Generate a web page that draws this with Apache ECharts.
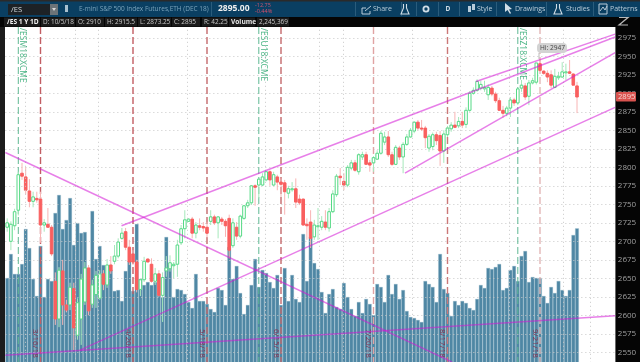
<!DOCTYPE html>
<html>
<head>
<meta charset="utf-8">
<title>/ES</title>
<style>
html,body{margin:0;padding:0;background:#fff;overflow:hidden;}
#chart{width:640px;height:362px;}
</style>
<script src="https://cdn.jsdelivr.net/npm/echarts@6/dist/echarts.min.js"></script>
</head>
<body>
<div id="chart"></div>
<script>
// open, close, low, high of each session
var ohlc = [
[2719,2725,2713,2731],[2700,2723,2688,2727],[2721,2740,2715,2744],[2742,2790,2735,2794],[2792,2788,2783,2806],
[2787,2769,2763,2800],[2768,2754,2746,2784],[2754,2760,2746,2767],[2758,2756,2752,2767],[2757,2722,2698,2767],
[2722,2725,2713,2730],[2723,2719,2718,2745],[2719,2683,2680,2722],[2646,2595,2587,2658],[2595,2661,2584,2665],
[2660,2614,2587,2675],[2614,2607,2604,2621],[2614,2638,2607,2644],[2636,2583,2553,2644],[2573,2617,2567,2623],
[2595,2649,2560,2656],[2618,2664,2614,2672],[2664,2606,2600,2668],[2615,2641,2610,2648],[2628,2654,2610,2660],
[2623,2656,2621,2661],[2656,2642,2634,2661],[2641,2668,2637,2676],[2668,2660,2656,2680],[2673,2680,2669,2695],
[2680,2699,2677,2704],[2704,2711,2702,2718],[2713,2692,2688,2718],[2692,2672,2668,2702],[2683,2672,2668,2688],
[2672,2635,2631,2675],[2635,2648,2626,2650],[2648,2673,2645,2679],[2676,2672,2672,2677],[2669,2646,2644,2677],
[2646,2656,2641,2664],[2656,2627,2625,2661],[2627,2651,2591,2658],[2660,2664,2652,2680],[2663,2671,2659,2681],
[2667,2669,2650,2672],[2669,2695,2652,2702],[2698,2717,2695,2722],[2717,2729,2704,2742],[2727,2730,2726,2731],
[2730,2711,2704,2733],[2711,2722,2704,2726],[2721,2719,2715,2731],[2720,2718,2713,2726],[2719,2711,2705,2726],
[2727,2733,2722,2742],[2733,2725,2722,2736],[2725,2733,2704,2734],[2730,2727,2722,2733],[2727,2721,2706,2730],
[2731,2688,2677,2736],[2694,2725,2691,2731],[2719,2707,2702,2726],[2707,2734,2704,2736],[2731,2748,2729,2749],
[2748,2752,2745,2756],[2752,2775,2749,2776],[2775,2773,2748,2777],[2776,2784,2758,2785],[2776,2787,2775,2792],
[2783,2794,2781,2795],[2794,2783,2775,2796],[2776,2790,2775,2794],[2787,2780,2769,2790],[2780,2777,2760,2785],
[2779,2767,2736,2783],[2765,2771,2758,2775],[2770,2771,2767,2780],[2771,2753,2745,2785],[2757,2752,2749,2763],
[2757,2722,2721,2758],[2723,2721,2702,2731],[2726,2704,2691,2742],[2706,2722,2702,2729],[2720,2721,2702,2745],
[2719,2727,2715,2734],[2726,2719,2715,2742],[2718,2740,2713,2745],[2740,2764,2738,2769],[2763,2788,2760,2791],
[2788,2786,2776,2799],[2781,2776,2769,2792],[2776,2800,2773,2803],[2799,2806,2796,2810],[2806,2796,2794,2810],
[2794,2817,2790,2819],[2814,2817,2810,2821],[2817,2804,2803,2821],[2806,2803,2794,2810],[2806,2813,2794,2815],
[2811,2819,2810,2823],[2819,2846,2817,2849],[2834,2841,2830,2848],[2841,2817,2814,2849],[2817,2804,2802,2821],
[2804,2827,2803,2830],[2826,2814,2810,2829],[2814,2831,2792,2834],[2831,2841,2829,2845],[2841,2850,2840,2853],
[2849,2861,2846,2862],[2861,2853,2850,2864],[2853,2852,2849,2864],[2853,2840,2826,2856],[2826,2842,2821,2845],
[2828,2844,2823,2847],[2844,2836,2830,2848],[2843,2822,2802,2849],[2822,2845,2806,2850],[2844,2853,2841,2856],
[2852,2857,2848,2861],[2857,2854,2853,2875],[2856,2862,2853,2868],[2862,2857,2853,2875],[2858,2877,2853,2881],
[2877,2900,2875,2903],[2900,2904,2898,2908],[2904,2916,2902,2919],[2907,2912,2904,2917],[2906,2908,2902,2917],
[2898,2908,2891,2912],[2907,2899,2896,2910],[2899,2890,2887,2902],[2890,2877,2876,2894],[2877,2873,2867,2883],
[2873,2880,2869,2883],[2880,2891,2868,2895],[2891,2887,2883,2894],[2887,2906,2884,2907],[2907,2911,2902,2918],
[2910,2895,2891,2914],[2896,2914,2884,2918],[2914,2917,2912,2921],[2915,2941,2912,2941],[2940,2931,2929,2947],
[2930,2927,2925,2931],[2927,2922,2915,2931],[2925,2911,2907,2931],[2908,2923,2907,2933],[2921,2923,2918,2929],
[2922,2929,2921,2942],[2928,2929,2918,2940],[2929,2927,2926,2945],[2926,2911,2911,2927],[2910,2895,2873.25,2915.5]
];
// volume in thousands
var volume = [
1463,1841,1526,1526,1683,2235,1935,1447,1179,1967,1163,1447,1415,2487,2771,2235,2377,2723,1983,2329,
2172,2187,1620,2518,1762,1967,1667,1399,1589,1258,1273,1100,1573,1730,1258,2314,1447,1352,1399,1352,
1399,1195,1163,2109,1667,1163,1289,1273,1210,1084,990,1526,1100,1100,1053,974,927,1305,1273,1037,
1951,1447,1652,1226,895,1037,1352,1762,1321,1589,1541,1399,1305,1510,1037,1620,1100,1510,1132,1084,
2156,1415,2109,1699,1604,1242,911,1210,1289,1005,974,1384,1163,974,864,1084,911,1132,1053,879,
1368,1321,1084,1510,1210,1368,1132,1273,942,848,832,801,769,1415,1368,1321,1084,1841,1289,1226,
864,1100,1037,1100,1069,990,958,1132,1352,1305,1620,1604,1636,1683,1273,1305,1589,1652,1415,1809,
1888,1399,1478,1463,1463,1179,1069,1321,1226,1415,1273,1179,1273,2140,2245
];
var priceTicks = [2550,2575,2600,2625,2650,2675,2700,2725,2750,2775,2800,2825,2850,2875,2900,2925,2950,2975];
// red lines are option expiries, green lines are contract rolls (session index)
var expiryDays = [9,34,54,74,99,119,144];
var expiryLabels = ['3/16/18','4/20/18','5/18/18','6/15/18','7/20/18','8/17/18','9/21/18'];
var rollDays = [3,68,138];
var rollLabels = ['/ESM18:XCME','/ESU18:XCME','/ESZ18:XCME'];
var gridDays = [4.8,18.3,24.5,48.6,69.7,84.3,90.8,109.4,122.4,135.6,150.2,157.5];
// trend lines, [session index, price] at both ends
var trendA = [[-0.5,2820],[120.2,2537]];
var trendB = [[30.9,2721],[164.3,2976]];
var trendC = [[107.5,2792],[164.3,2955]];
var trendD = [[126.7,2916],[164.3,2980]];
var trendE = [[19.7,2553],[164.3,2881]];
var trendF = [[-0.5,2546],[164.3,2599.5]];

var NAVY = '#0a3f62', BAND = 165;
var expiryColors = ['#c25d63','#c25d63','#c4696c','#c4696c','#e0a3a3','#cb7878','#e3b7b7'];

var myChart = echarts.init(document.getElementById('chart'), null, {renderer:'canvas'});

// weekday dates from the first session, plus empty bands for the right margin
function buildDays(){
	var days = [], d = new Date(2018,2,5);
	while(days.length < BAND){
		if(d.getDay()!=0 && d.getDay()!=6){
			days.push((d.getMonth()+1)+'/'+d.getDate()+'/18');
		}
		d.setDate(d.getDate()+1);
	}
	return days;
}

function renderCandle(params,api){
	var i = api.value(0), o = api.value(1), c = api.value(2);
	var x = api.coord([i,0])[0];
	var yo = api.coord([i,o])[1], yc = api.coord([i,c])[1];
	var yl = api.coord([i,api.value(3)])[1], yh = api.coord([i,api.value(4)])[1];
	var up = c >= o;
	var top = Math.min(yo,yc), h = Math.max(Math.abs(yo-yc),1);
	return {type:'group',children:[
		{type:'line',shape:{x1:x,y1:yh,x2:x,y2:yl},style:{stroke:up?'#a5e8bb':'#f8b4b4',lineWidth:1}},
		{type:'rect',shape:{x:x-1.3,y:top,width:2.6,height:h},
			style:{fill:up?'#ffffff':'#f95f5f',stroke:up?'#55d985':'#f95f5f',lineWidth:1}}
	]};
}

// dashed vertical with its rotated label
function renderEvent(params,api){
	var i = api.value(0), kind = api.value(1), n = api.value(2);
	var x = api.coord([i,2600])[0];
	var red = kind == 0;
	return {type:'group',children:[
		{type:'line',shape:{x1:x,y1:27,x2:x,y2:362},
			style:{stroke:red?expiryColors[n]:'#5fb893',lineWidth:red?1.4:1,lineDash:[7,3]}},
		{type:'text',x:red?x-5:x+4.5,y:red?329:28,rotation:-Math.PI/2,
			style:{text:red?expiryLabels[n]:rollLabels[n],fill:red?'#84304f':'#4ab585',
				font:(red?'8px':'8.5px')+' "Open Sans"',align:'left',verticalAlign:'middle'}}
	]};
}

var eventRows = [];
for(var e=0;e<expiryDays.length;e++){ eventRows.push([expiryDays[e],0,e]); }
for(var g=0;g<rollDays.length;g++){ eventRows.push([rollDays[g],1,g]); }

var candleRows = [];
for(var k=0;k<ohlc.length;k++){ candleRows.push([k].concat(ohlc[k])); }

var trendStyle = {color:'rgba(211,22,213,0.55)',width:1.5};
function trendSeries(points){
	return {type:'line',xAxisIndex:1,yAxisIndex:0,data:points,symbol:'none',silent:true,z:6,
		lineStyle:trendStyle,clip:true,animation:false};
}

// header and axis furniture
var chrome = [];
function rect(x,y,w,h,fill,z,r){
	chrome.push({type:'rect',shape:{x:x,y:y,width:w,height:h,r:r||0},style:{fill:fill},z:z===undefined?100:z,silent:true});
}
function txt(x,y,s,fill,font,align){
	chrome.push({type:'text',x:x,y:y,style:{text:s,fill:fill,font:font,align:align||'left',verticalAlign:'middle'},z:101,silent:true});
}
function poly(points,stroke,width){
	chrome.push({type:'polyline',shape:{points:points},style:{stroke:stroke,lineWidth:width||1,fill:null},z:101,silent:true});
}
rect(615.4,0,24.6,362,'#050505',-1);
rect(0,0,5,362,'#1c1c1c');
rect(0,0,640,17,NAVY);
rect(0,0,640,1.5,'#2a2a2a');
rect(0,17,640,10,'#050505');
// symbol box
rect(8,4,50,11,'#1d2226');
rect(50,4,8,11,'#6c7378');
txt(11,9.5,'/ES','#d6dde2','7.5px "Open Sans"');
chrome.push({type:'polygon',shape:{points:[[52,8],[56,8],[54,11]]},style:{fill:'#d8d8d8'},z:101,silent:true});
rect(65,5,3,7,'#a9c0cf');
txt(79,9,'E-mini S&P 500 Index Futures,ETH (DEC 18)','#7aa3bb','6.5px "Open Sans"');
rect(211,2,1,14,'#2a5c7c');
txt(218,9,'2895.00','#f0f0f0','bold 8.5px "Open Sans"');
txt(255,5.6,'-12.75','#c9566c','5.5px "Open Sans"');
txt(255,11.6,'-0.44%','#d8506a','5.5px "Open Sans"');
// toolbar
var sep = [355,401,416,438,459,496,546,593];
for(var s=0;s<sep.length;s++){ rect(sep[s],2,1,14,'#2a5c7c'); }
var barFont = '7px "Open Sans"', barCol = '#b9ccd9';
poly([[362,14],[362,8],[366,8]],barCol,1); poly([[362,14],[370,14],[370,11]],barCol,1); poly([[365,11],[371,6]],barCol,1);
txt(373,9,'Share',barCol,barFont);
function flask(x){ poly([[x-1.5,4],[x-1.5,8],[x-4,14],[x+4,14],[x+1.5,8],[x+1.5,4]],'#d0dde6',1.1); }
flask(405); flask(558);
chrome.push({type:'circle',shape:{cx:426,cy:9,r:2.6},style:{fill:null,stroke:'#d0dde6',lineWidth:1.8},z:101,silent:true});
txt(448,9,'D','#d0dde6','bold 6.5px "Open Sans"','center');
rect(468,6,3,6,barCol); rect(472,4,3,6,barCol);
txt(477,9,'Style',barCol,barFont);
chrome.push({type:'polygon',shape:{points:[[505,3],[505,12],[507.5,10],[510,14],[511,13],[509,9.5],[512,9]]},style:{fill:'#d0dde6'},z:101,silent:true});
txt(515,9,'Drawings',barCol,barFont);
txt(566,9,'Studies',barCol,barFont);
poly([[599,4],[599,14],[607,14],[607,4],[599,4]],barCol,1); poly([[600,11],[603,7],[605,10],[607,6]],barCol,1);
txt(610,9,'Patterns',barCol,barFont);
// study row
var cells = [[4,36],[41,34],[76,28],[105,32],[138,33],[172,28],[202,26],[229,26],[257,32]];
for(var q=0;q<cells.length;q++){ rect(cells[q][0],17.5,cells[q][1],9,'#1b1b1b'); }
var rowFont = '6.4px "Open Sans"';
txt(7,21.8,'/ES 1 Y 1D','#f2f2f2','bold 6.6px "Open Sans"');
txt(43,21.8,'D: 10/5/18','#c9c9c9',rowFont);
txt(78,21.8,'O: 2910','#c9c9c9',rowFont);
txt(107,21.8,'H: 2915.5','#c9c9c9',rowFont);
txt(140,21.8,'L: 2873.25','#c9c9c9',rowFont);
txt(174,21.8,'C: 2895','#c9c9c9',rowFont);
txt(204,21.8,'R: 42.25','#c9c9c9',rowFont);
txt(231,21.8,'Volume','#e6e6e6','bold 6.6px "Open Sans"');
txt(259,21.8,'2,245,369','#c9c9c9',rowFont);
// expand icon on the price axis
poly([[619,17.5],[628,17.5],[619,25],[628,25]],'#b8b8b8',1.2);
// last price tag
rect(616,92,20,9.5,'#d9534f',100,1);
txt(618,97,'2895','#f5d5d2','7.6px "Open Sans"');
// high bubble
poly([[539,53],[539,59]],'#bbbbbb',1);
rect(537,43,30,10,'#d3d3d3',100,4);
txt(540,48.2,'Hi: 2947','#444444','6.6px "Open Sans"');

var option = {
	animation:false,
	backgroundColor:'#ffffff',
	grid:{left:5.35,top:19.3,width:610.5,height:351.5,containLabel:false,show:false,outerBoundsMode:'none'},
	xAxis:[
		{type:'category',data:buildDays(),show:false,boundaryGap:true},
		{type:'value',min:-0.5,max:164.5,show:false}
	],
	yAxis:[
		{type:'value',position:'right',min:2525,max:3000,interval:25,z:1,
			axisLine:{show:false},axisTick:{show:false},
			axisLabel:{color:'#a0a0a0',fontSize:8,fontFamily:'Open Sans',margin:2,
				formatter:function(v){ return priceTicks.indexOf(v)<0 ? '' : String(v); }},
			splitLine:{show:true,lineStyle:{color:'#c8c8c8',type:[1,3],width:1}}},
		{type:'value',min:0,max:5540,show:false,splitLine:{show:false}}
	],
	graphic:{elements:chrome},
	series:[
		{name:'Volume',type:'bar',xAxisIndex:0,yAxisIndex:1,data:volume,barWidth:3.7,z:0,silent:true,
			itemStyle:{color:'#4f87a4',borderColor:'#a6c4d3',borderWidth:0.35}},
		{type:'line',xAxisIndex:1,yAxisIndex:0,data:[],silent:true,z:1,symbol:'none',
			markLine:{silent:true,symbol:'none',label:{show:false},
				lineStyle:{color:'#c8c8c8',type:[1,3],width:1},
				data:gridDays.map(function(v){ return {xAxis:v}; })}},
		{type:'custom',xAxisIndex:1,yAxisIndex:0,data:eventRows,renderItem:renderEvent,silent:true,z:3,clip:false},
		{name:'/ES',type:'custom',xAxisIndex:0,yAxisIndex:0,data:candleRows,renderItem:renderCandle,silent:true,z:4,
			encode:{x:0,y:[1,2,3,4]},clip:true},
		trendSeries(trendA),trendSeries(trendB),trendSeries(trendC),
		trendSeries(trendD),trendSeries(trendE),trendSeries(trendF)
	]
};
myChart.setOption(option);
</script>
</body>
</html>
